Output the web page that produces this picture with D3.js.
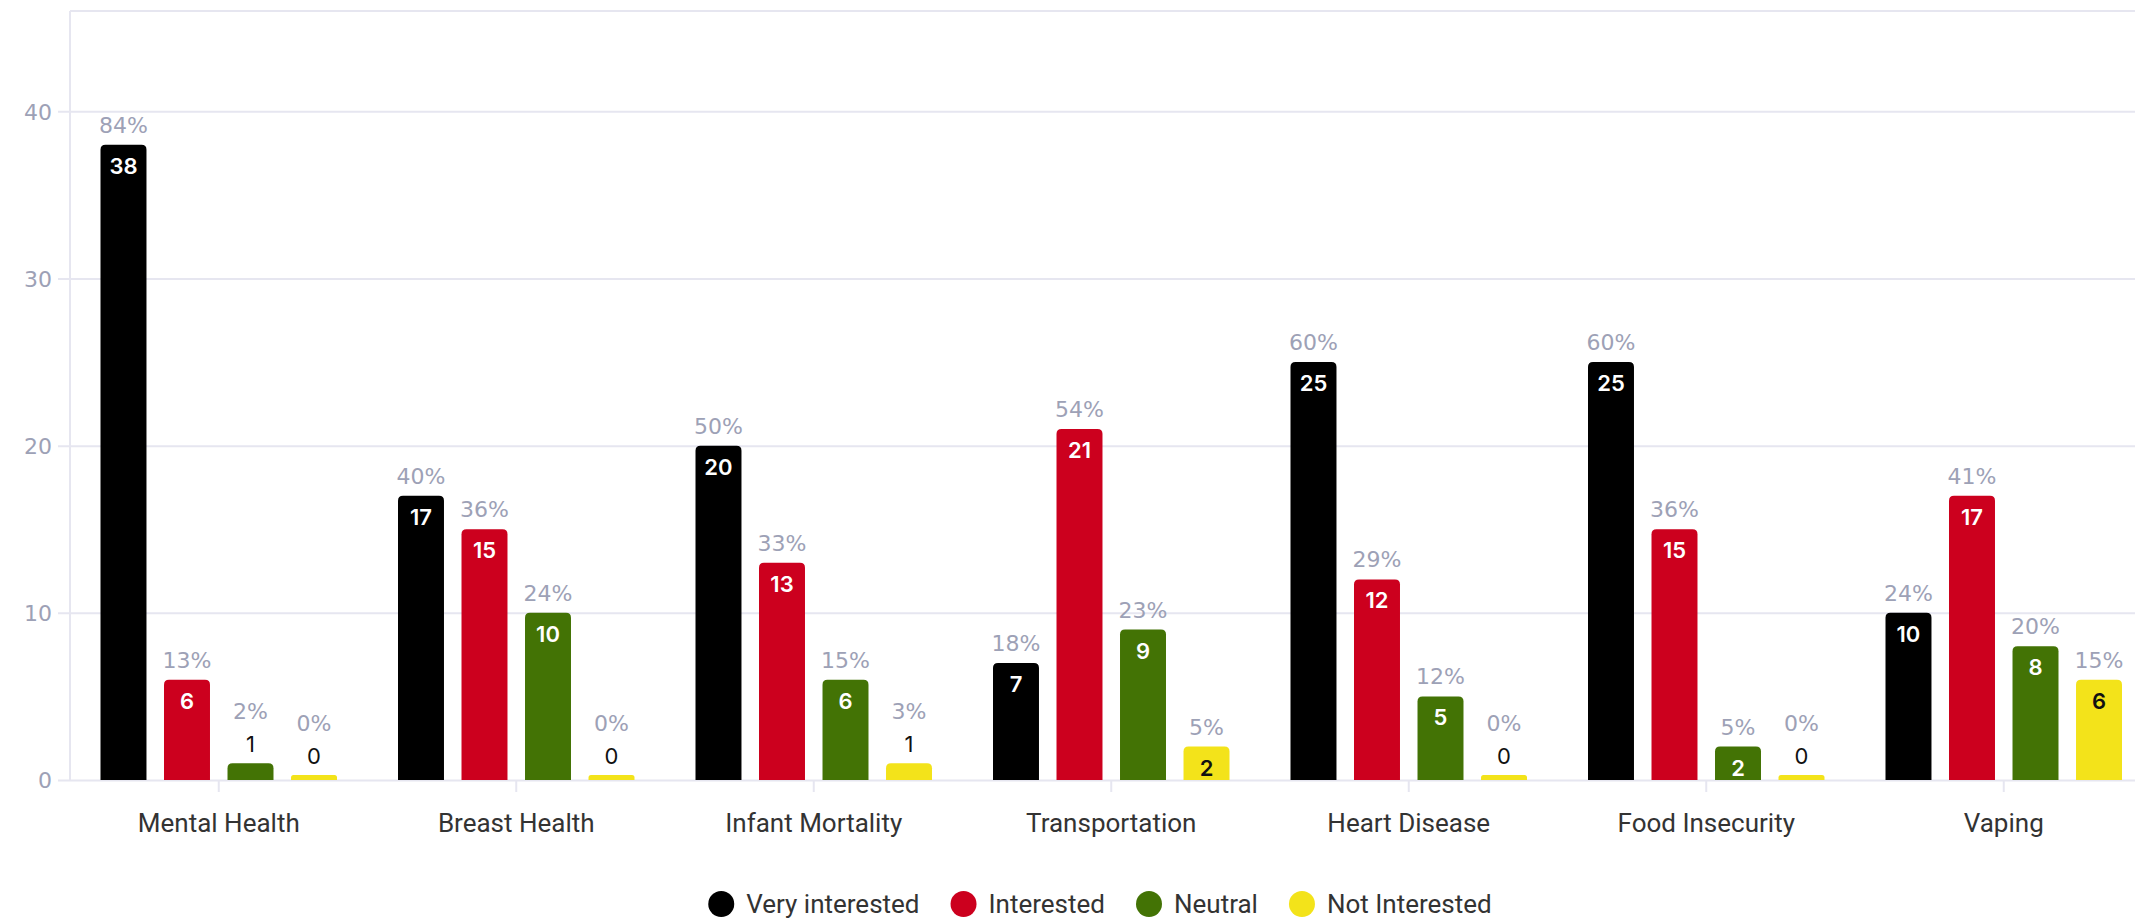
<!DOCTYPE html>
<html>
<head>
<meta charset="utf-8">
<script src="https://cdn.jsdelivr.net/npm/d3@7"></script>
<style>
  body { margin: 0; background: #fff; overflow: hidden; }
  svg { display: block; }
</style>
</head>
<body>
<div class="graph"></div>
<script>
var categories = ["Mental Health", "Breast Health", "Infant Mortality", "Transportation", "Heart Disease", "Food Insecurity", "Vaping"]
var seriesNames = ["Very interested", "Interested", "Neutral", "Not Interested"]
var seriesColors = ["#000000", "#cc001e", "#437305", "#f3e31a"]
var labelColors = ["#ffffff", "#ffffff", "#ffffff", "#111111"]

var veryInterested = [38, 17, 20, 7, 25, 25, 10]
var interested = [6, 15, 13, 21, 12, 15, 17]
var neutral = [1, 10, 6, 9, 5, 2, 8]
var notInterested = [0, 0, 1, 2, 0, 0, 6]

var veryInterestedPct = [84, 40, 50, 18, 60, 60, 24]
var interestedPct = [13, 36, 33, 54, 29, 36, 41]
var neutralPct = [2, 24, 15, 23, 12, 5, 20]
var notInterestedPct = [0, 0, 3, 5, 0, 0, 15]

var yTicks = [0, 10, 20, 30, 40]

var counts = [veryInterested, interested, neutral, notInterested]
var pcts = [veryInterestedPct, interestedPct, neutralPct, notInterestedPct]

var w = 2135
var h = 921
var plotLeft = 70
var plotTop = 11
var base = 780
var bandW = 297.5
var yMax = 46

var svg = d3.select('.graph')
              .append("svg")
              .attr("width", w)
              .attr("height", h)

var x0 = d3.scaleBand()
  .domain(categories)
  .range([plotLeft, plotLeft + bandW * categories.length])

var x1 = d3.scaleBand()
  .domain(seriesNames)
  .range([30.5, 30.5 + 236.5])
  .paddingInner(0.276)

var y = d3.scaleLinear()
  .domain([0, yMax])
  .range([base, plotTop])

// gridlines + y axis
var yAxis = svg.append("g")
  .attr("transform", "translate(" + plotLeft + ",0)")
  .call(d3.axisLeft(y).tickValues(yTicks).tickSize(-(w - plotLeft)).tickSizeOuter(0).tickPadding(18))

yAxis.select(".domain").remove()
yAxis.selectAll(".tick line")
  .attr("stroke", "#e6e6f0")
  .attr("stroke-width", 2)
  .attr("x1", -12)
yAxis.selectAll(".tick text")
  .attr("fill", "#9da1b6")
  .attr("font-family", "DejaVu Sans")
  .attr("font-size", 22)
  .attr("dy", "0.36em")

// frame on top and left
svg.append("line")
  .attr("x1", plotLeft).attr("x2", w)
  .attr("y1", y(yMax)).attr("y2", y(yMax))
  .attr("stroke", "#e6e6f0").attr("stroke-width", 2)
svg.append("line")
  .attr("x1", plotLeft).attr("x2", plotLeft)
  .attr("y1", y(yMax)).attr("y2", base)
  .attr("stroke", "#e6e6f0").attr("stroke-width", 2)

// x axis
var xAxis = svg.append("g")
  .attr("transform", "translate(0," + base + ")")
  .call(d3.axisBottom(x0).tickSize(12).tickSizeOuter(0).tickPadding(22))

xAxis.select(".domain").remove()
xAxis.selectAll(".tick line")
  .attr("stroke", "#e6e6f0")
  .attr("stroke-width", 2)
xAxis.selectAll(".tick text")
  .attr("fill", "#333333")
  .attr("font-family", "Roboto")
  .attr("font-size", 26)

var barData = []
for (var s = 0; s < seriesNames.length; s++) {
  for (var c = 0; c < categories.length; c++) {
    barData.push({ cat: categories[c], series: seriesNames[s], si: s, v: counts[s][c], p: pcts[s][c] })
  }
}

var minH = 5
var r = 5
var barTop = function(d) {
  return Math.min(y(d.v), base - minH)
}
var barPath = function(d) {
  var bx = x0(d.cat) + x1(d.series)
  var bw = x1.bandwidth()
  var ty = barTop(d)
  var rr = Math.min(r, (base - ty) / 2)
  return "M" + bx + "," + base +
    "V" + (ty + rr) +
    "Q" + bx + "," + ty + " " + (bx + rr) + "," + ty +
    "H" + (bx + bw - rr) +
    "Q" + (bx + bw) + "," + ty + " " + (bx + bw) + "," + (ty + rr) +
    "V" + base + "Z"
}

var groups = svg.append("g").selectAll("g")
  .data(barData)
  .enter()
  .append("g")

groups.append("path")
  .attr("d", barPath)
  .attr("fill", function(d) { return seriesColors[d.si] })

var inside = function(d) {
  return base - barTop(d) > 26
}
var cx = function(d) {
  return x0(d.cat) + x1(d.series) + x1.bandwidth() / 2
}

// counts
groups.append("text")
  .text(function(d) { return d.v })
  .attr("x", cx)
  .attr("y", function(d) {
    return inside(d) ? barTop(d) + 29 : barTop(d) - 11
  })
  .attr("text-anchor", "middle")
  .attr("font-family", "Inter")
  .attr("font-weight", function(d) { return inside(d) ? 600 : 400 })
  .attr("font-size", 22)
  .attr("fill", function(d) { return inside(d) ? labelColors[d.si] : "#111111" })

// percents
groups.append("text")
  .text(function(d) { return d.p + "%" })
  .attr("x", cx)
  .attr("y", function(d) {
    return inside(d) ? barTop(d) - 12 : barTop(d) - 44
  })
  .attr("text-anchor", "middle")
  .attr("font-family", "DejaVu Sans")
  .attr("font-size", 22)
  .attr("fill", "#9da1b6")

// legend
var legend = svg.append("g")
var lx = 0
seriesNames.forEach(function(name, i) {
  var item = legend.append("g").attr("transform", "translate(" + lx + ",0)")
  item.append("circle")
    .attr("cx", 13).attr("cy", 0).attr("r", 13)
    .attr("fill", seriesColors[i])
  var t = item.append("text")
    .text(name)
    .attr("x", 38)
    .attr("y", 0)
    .attr("dy", "0.35em")
    .attr("font-family", "Roboto")
    .attr("font-size", 26)
    .attr("fill", "#333333")
  lx += 38 + t.node().getComputedTextLength() + 31
})
var legendW = lx - 31
legend.attr("transform", "translate(" + (1100 - legendW / 2) + ",904)")
</script>
</body>
</html>
